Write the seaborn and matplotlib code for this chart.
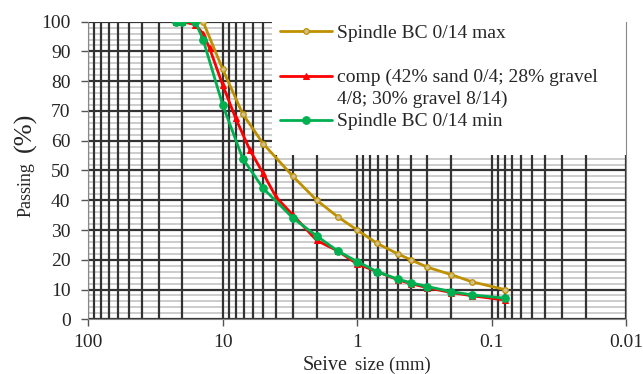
import numpy as np
import matplotlib
matplotlib.use('Agg')
import matplotlib.pyplot as plt
import matplotlib.ticker as mticker
from matplotlib.patches import Rectangle
import seaborn as sns

# sieve sizes (mm) and passing (%)
max_size = [14, 10, 7.1, 5, 3, 2, 1.4, 1, 0.71, 0.5, 0.4, 0.3, 0.2, 0.14, 0.08]
max_pass = [100, 84, 69, 59, 48, 40, 34.5, 30, 25.5, 22, 20, 17.5, 15, 12.6, 10]

comp_size = [22.4, 20, 16, 14, 12.5, 10, 8, 6.3, 5, 4, 3, 2, 1.4, 1, 0.71, 0.5, 0.4, 0.3, 0.2, 0.14, 0.08]
comp_pass = [100, 100, 99, 96, 91, 78.7, 67.5, 57, 49, 41, 35, 26.5, 23, 18.6, 16, 13.3, 12, 10.6, 9, 7.9, 6.5]

min_size = [22.4, 20, 16, 14, 10, 7.1, 5, 3, 2, 1.4, 1, 0.71, 0.5, 0.4, 0.3, 0.2, 0.14, 0.08]
min_pass = [100, 100, 100, 94, 72, 54, 44, 34, 28, 23, 19.4, 16, 13.5, 12.3, 11, 9.3, 8.2, 7.1]

labels = ['Spindle BC 0/14 max', 'comp (42% sand 0/4; 28% gravel', 'Spindle BC 0/14 min']
label_cont = '4/8; 30% gravel 8/14)'
colors = ['#BF9000', '#FF0000', '#00B050']

sns.set_style('white')
plt.rcParams['font.family'] = ['Liberation Serif', 'DejaVu Serif']

fig = plt.figure(figsize=(6.43, 3.74), dpi=100)
ax = fig.add_axes([0.1373, 0.1463, 0.8363, 0.7957])

sns.lineplot(x=max_size, y=max_pass, ax=ax, color=colors[0], lw=2, marker='o', markersize=4,
             markerfacecolor='#d2c08c', markeredgecolor=colors[0], markeredgewidth=0.9,
             sort=False, label=labels[0])
sns.lineplot(x=comp_size, y=comp_pass, ax=ax, color=colors[1], lw=2, marker='^', markersize=5,
             markeredgecolor=colors[1], sort=False, label=labels[1])
sns.lineplot(x=min_size, y=min_pass, ax=ax, color=colors[2], lw=2, marker='o', markersize=5.5,
             markeredgecolor=colors[2], sort=False, label=labels[2])

ax.set_xscale('log')
ax.set_xlim(100, 0.01)
ax.set_ylim(0, 100)
ax.set_axisbelow(True)
ax.xaxis.set_zorder(0.6)  # vertical grid over the light horizontal lines

ax.xaxis.set_major_locator(mticker.LogLocator(base=10))
ax.xaxis.set_minor_locator(mticker.LogLocator(base=10, subs=np.arange(2, 10)))
ax.xaxis.set_major_formatter(mticker.FuncFormatter(lambda v, p: f'{v:g}'))
ax.xaxis.set_minor_formatter(mticker.NullFormatter())
ax.yaxis.set_major_locator(mticker.MultipleLocator(10))
ax.yaxis.set_minor_locator(mticker.MultipleLocator(2))

ax.grid(which='both', axis='x', color='#333333', lw=1.6)
ax.grid(which='major', axis='y', color='#333333', lw=1.6)
ax.grid(which='minor', axis='y', color='#c4c4c4', lw=1.2)

for side in ['left', 'bottom', 'right']:
    ax.spines[side].set_color('#888888')
    ax.spines[side].set_linewidth(0.8)
ax.spines['top'].set_visible(False)

ax.tick_params(axis='both', which='major', direction='out', length=4.8, width=1,
               color='#555555', labelsize=14, bottom=True, left=True)
ax.tick_params(axis='y', which='major', pad=8)
ax.tick_params(axis='x', which='major', pad=6)
ax.tick_params(axis='both', which='minor', length=0)
ax.set_xlabel('')
ax.set_ylabel('')

# white legend area
ax.add_patch(Rectangle((0.3417, 0.552), 0.6583, 0.46, transform=ax.transAxes,
                       facecolor='white', edgecolor='none', zorder=1, clip_on=False))

leg = ax.legend(loc='upper left', bbox_to_anchor=(0.357, 0.99), frameon=False,
                handlelength=2.65, handletextpad=0.26, labelspacing=1.36, fontsize=14,
                borderaxespad=0, borderpad=0)
ax.text(0.4625, 0.74, label_cont, transform=ax.transAxes, fontsize=14, va='center', ha='left')

# axis titles
fig.text(26 / 643, 1 - 189.5 / 374, 'Passing', rotation=90, fontsize=13, ha='center', va='center')
fig.text(25 / 643, 1 - 132.5 / 374, '(%)', rotation=90, fontsize=19, ha='center', va='center')
fig.text(348 / 643, 1 - 365 / 374, 'Seive', fontsize=14.5, ha='right', va='center')
fig.text(355 / 643, 1 - 365 / 374, 'size (mm)', fontsize=13.5, ha='left', va='center')

fig.savefig('out.png', dpi=100)
